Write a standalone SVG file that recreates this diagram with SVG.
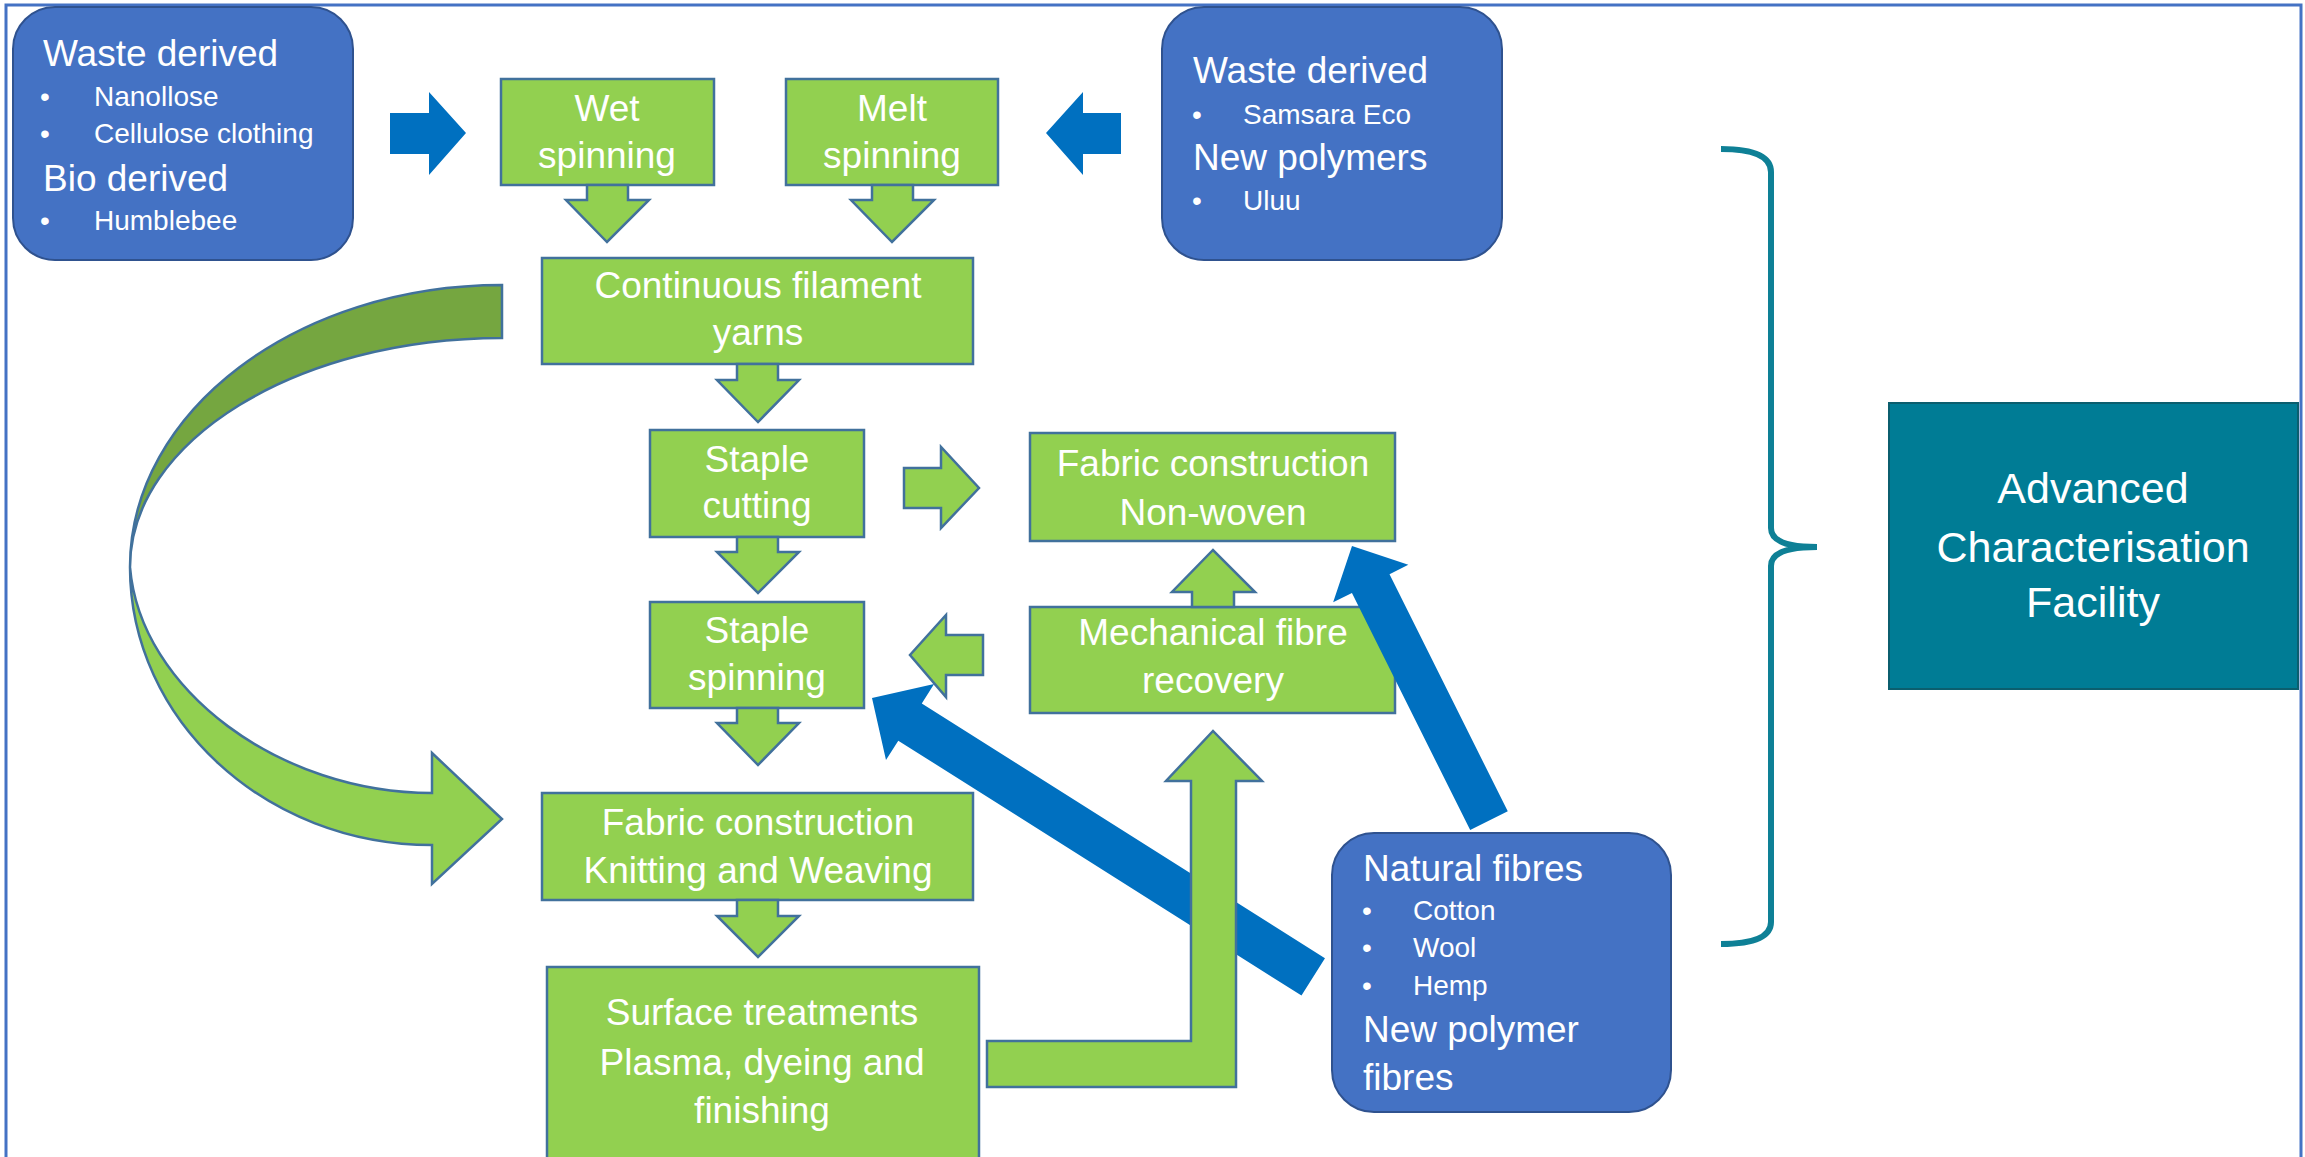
<svg xmlns="http://www.w3.org/2000/svg" width="2305" height="1157" viewBox="0 0 2305 1157">
<style>
text{font-family:"Liberation Sans",Arial,sans-serif;fill:#fff}
.g{fill:#92D050;stroke:#41719C;stroke-width:2.5}
.gd{fill:#75A640;stroke:#41719C;stroke-width:2.5}
.b{fill:#4472C4;stroke:#2F528F;stroke-width:2}
.ba{fill:#0070C0}
.t{font-size:37px;text-anchor:middle}
.h{font-size:37px}
.s{font-size:28px}
</style>
<rect x="6" y="5" width="2295" height="1160" fill="#fff" stroke="#4472C4" stroke-width="3"/>

<g id="nodes-process">
<g id="wet"><rect class="g" x="501" y="79" width="213" height="106"/><text class="t" x="607" y="121">Wet</text><text class="t" x="607" y="168">spinning</text></g>
<g id="melt"><rect class="g" x="786" y="79" width="212" height="106"/><text class="t" x="892" y="121">Melt</text><text class="t" x="892" y="168">spinning</text></g>
<g id="cfy"><rect class="g" x="542" y="258" width="431" height="106"/><text class="t" x="758" y="298">Continuous filament</text><text class="t" x="758" y="345">yarns</text></g>
<g id="cutting"><rect class="g" x="650" y="430" width="214" height="107"/><text class="t" x="757" y="472">Staple</text><text class="t" x="757" y="518">cutting</text></g>
<g id="nonwoven"><rect class="g" x="1030" y="433" width="365" height="108"/><text class="t" x="1213" y="476">Fabric construction</text><text class="t" x="1213" y="525">Non-woven</text></g>
<g id="spinning"><rect class="g" x="650" y="602" width="214" height="106"/><text class="t" x="757" y="643">Staple</text><text class="t" x="757" y="690">spinning</text></g>
<g id="mechanical"><rect class="g" x="1030" y="607" width="365" height="106"/><text class="t" x="1213" y="645">Mechanical fibre</text><text class="t" x="1213" y="693">recovery</text></g>
<g id="knitting"><rect class="g" x="542" y="793" width="431" height="107"/><text class="t" x="758" y="835">Fabric construction</text><text class="t" x="758" y="883">Knitting and Weaving</text></g>
<g id="surface"><rect class="g" x="547" y="967" width="432" height="195"/><text class="t" x="762" y="1025">Surface treatments</text><text class="t" x="762" y="1075">Plasma, dyeing and</text><text class="t" x="762" y="1123">finishing</text></g>
</g>

<g id="connectors">
<path class="ba" d="M390,113H429V92L466,133L429,175V154H390Z"/>
<path class="ba" d="M1121,113H1083V92L1046,133L1083,175V154H1121Z"/>
<polygon class="ba" points="0,0 -45,-45 -45,-22 -522,-22 -522,22 -45,22 -45,45" transform="translate(872,698) rotate(212.3)"/>
<polygon class="ba" points="0,0 -42,-42 -42,-21 -307,-21 -307,21 -42,21 -42,42" transform="translate(1352,546) rotate(243.5)"/>
<path class="g" d="M587,185H628V200H649L607,242L566,200H587Z"/>
<path class="g" d="M872,185H913V200H934L892,242L851,200H872Z"/>
<path class="g" d="M737,364H778V380H799L758,422L717,380H737Z"/>
<path class="g" d="M737,537H778V552H799L758,593L717,552H737Z"/>
<path class="g" d="M737,708H778V723H799L758,765L717,723H737Z"/>
<path class="g" d="M737,900H778V916H799L758,957L717,916H737Z"/>
<path class="g" d="M904,468H941V447L979,488L941,528V508H904Z"/>
<path class="g" d="M983,635H946V615L910,655L946,697V675H983Z"/>
<path class="g" d="M1192,607V592H1172L1213,550L1255,592H1234V607Z"/>
<path class="g" d="M987,1041H1191V781H1166L1213,731L1262,781H1236V1087H987Z"/>
<path class="gd" d="M502,285C297,285 130,411 130,567C130,441 297,338 502,338Z"/>
<path class="g" d="M130,567C130,720 265,845 432,845V884L502,819L432,753V793C280,793 140,690 130,567Z"/>
</g>

<g id="src-left"><rect class="b" x="13" y="7" width="340" height="253" rx="42"/>
<text class="h" x="43" y="66">Waste derived</text>
<text class="s" x="40" y="106">•</text><text class="s" x="94" y="106">Nanollose</text>
<text class="s" x="40" y="143">•</text><text class="s" x="94" y="143">Cellulose clothing</text>
<text class="h" x="43" y="191">Bio derived</text>
<text class="s" x="40" y="230">•</text><text class="s" x="94" y="230">Humblebee</text>
</g>
<g id="src-right"><rect class="b" x="1162" y="7" width="340" height="253" rx="42"/>
<text class="h" x="1193" y="83">Waste derived</text>
<text class="s" x="1192" y="124">•</text><text class="s" x="1243" y="124">Samsara Eco</text>
<text class="h" x="1193" y="170">New polymers</text>
<text class="s" x="1192" y="210">•</text><text class="s" x="1243" y="210">Uluu</text>
</g>
<g id="src-natural"><rect class="b" x="1332" y="833" width="339" height="279" rx="42"/>
<text class="h" x="1363" y="881">Natural fibres</text>
<text class="s" x="1362" y="920">•</text><text class="s" x="1413" y="920">Cotton</text>
<text class="s" x="1362" y="957">•</text><text class="s" x="1413" y="957">Wool</text>
<text class="s" x="1362" y="995">•</text><text class="s" x="1413" y="995">Hemp</text>
<text class="h" x="1363" y="1042">New polymer</text>
<text class="h" x="1363" y="1090">fibres</text>
</g>

<g id="brace"><path d="M1721,149Q1771,149 1771,172V528Q1771,547 1817,547Q1771,547 1771,566V922Q1771,944 1721,944" fill="none" stroke="#0E8096" stroke-width="6"/></g>
<g id="acf"><rect x="1889" y="403" width="409" height="286" fill="#007C95" stroke="#0B5E6E" stroke-width="2"/>
<text x="2093" y="503" font-size="43" text-anchor="middle">Advanced</text>
<text x="2093" y="562" font-size="43" text-anchor="middle">Characterisation</text>
<text x="2093" y="617" font-size="43" text-anchor="middle">Facility</text>
</g>
</svg>
